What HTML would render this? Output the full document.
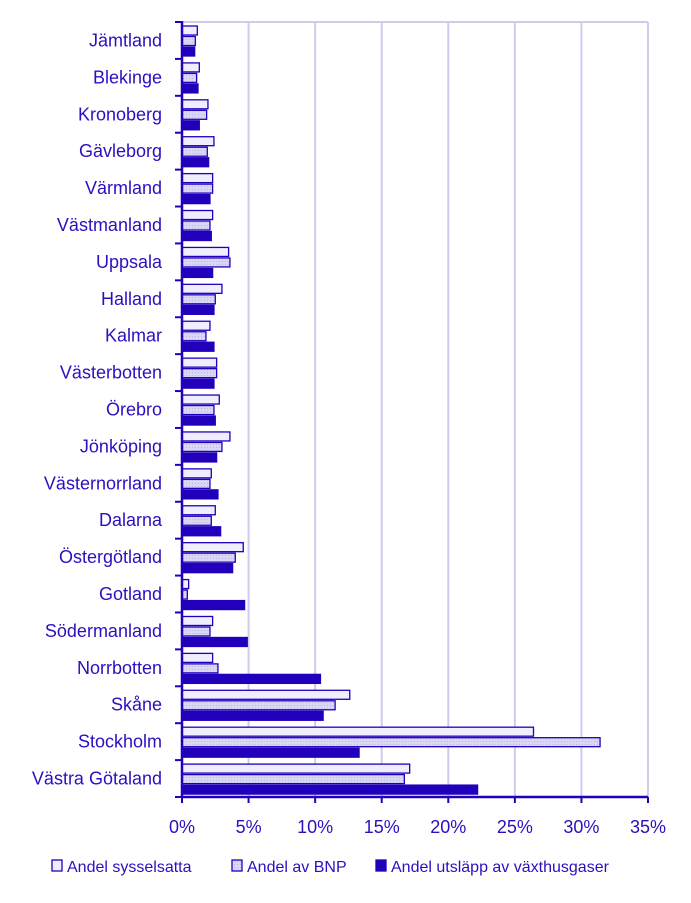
<!DOCTYPE html>
<html><head><meta charset="utf-8"><style>
body{margin:0;background:#fff;font-family:"Liberation Sans",sans-serif}
</style></head><body>
<svg id="chart" width="691" height="898" xmlns="http://www.w3.org/2000/svg" font-family="Liberation Sans, sans-serif"></svg>
<script>
const categories=["Jämtland","Blekinge","Kronoberg","Gävleborg","Värmland","Västmanland","Uppsala","Halland","Kalmar","Västerbotten","Örebro","Jönköping","Västernorrland","Dalarna","Östergötland","Gotland","Södermanland","Norrbotten","Skåne","Stockholm","Västra Götaland"];
const sysselsatta=[1.15,1.3,1.95,2.4,2.3,2.3,3.5,3.0,2.1,2.6,2.8,3.6,2.2,2.5,4.6,0.5,2.3,2.3,12.6,26.4,17.1];
const bnp=[1.0,1.1,1.85,1.9,2.3,2.1,3.6,2.5,1.8,2.6,2.4,3.0,2.1,2.2,4.0,0.4,2.1,2.7,11.5,31.4,16.7];
const utslapp=[0.95,1.2,1.3,2.0,2.1,2.2,2.3,2.4,2.4,2.4,2.5,2.6,2.7,2.9,3.8,4.7,4.9,10.4,10.6,13.3,22.2];
const xTicks=[0,5,10,15,20,25,30,35];
const seriesNames=["Andel sysselsatta","Andel av BNP","Andel utsläpp av växthusgaser"];
const C="#2200bb",TXT="#2a10c0";
const X0=182,X1=648,XMAX=35,Y0=22,Y1=797;
const band=(Y1-Y0)/categories.length;
const xs=v=>X0+v/XMAX*(X1-X0);
const ys=i=>Y0+i*band;
const svg=document.getElementById('chart');
const NS="http://www.w3.org/2000/svg";
function mk(t,a,p){const e=document.createElementNS(NS,t);for(const k in a)e.setAttribute(k,a[k]);(p||svg).appendChild(e);return e;}
const defs=mk('defs',{});
const pat=mk('pattern',{id:'dots',width:3,height:3,patternUnits:'userSpaceOnUse'},defs);
mk('rect',{width:3,height:3,fill:'#d8d8f4'},pat);
mk('rect',{x:0,y:0,width:1,height:1,fill:'#b8b8e8'},pat);
xTicks.forEach(t=>{if(t===0)return;const g=mk('line',{x1:xs(t),x2:xs(t),y1:Y0,y2:Y1,stroke:'#ccccee','stroke-width':2});

});
const topBorder=mk('line',{x1:X0,x2:X1,y1:Y0,y2:Y0,stroke:'#ccccee','stroke-width':2});


const fills=['#eeeeff','url(#dots)',C];
const series=[sysselsatta,bnp,utslapp];
categories.forEach((c,i)=>{
  series.forEach((s,j)=>{
    const r=mk('rect',{x:X0,y:ys(i)+4+j*10.5,width:xs(s[i])-X0,height:9,fill:fills[j],stroke:C,'stroke-width':1.3});
    
    
  });
  const t=mk('text',{x:162,y:ys(i)+band/2+6,'text-anchor':'end','font-size':18,fill:TXT});
  t.textContent=c;
  
  
});
for(let i=0;i<=categories.length;i++){mk('line',{x1:175,x2:X0,y1:ys(i),y2:ys(i),stroke:C,'stroke-width':2});}
const yAx=mk('line',{x1:X0,x2:X0,y1:Y0-1,y2:Y1+1,stroke:C,'stroke-width':2.5});


const xAx=mk('line',{x1:X0,x2:X1,y1:Y1,y2:Y1,stroke:C,'stroke-width':2.5});


xTicks.forEach(t=>{mk('line',{x1:xs(t),x2:xs(t),y1:Y1,y2:Y1+6,stroke:C,'stroke-width':2});
  const l=mk('text',{x:xs(t),y:833,'text-anchor':'middle','font-size':18,fill:TXT});l.textContent=t+'%';
  
  });
const lx=[52,232,376];
seriesNames.forEach((n,j)=>{
  const g=mk('g',{});
  
  
  mk('rect',{x:lx[j],y:860,width:10,height:11,fill:fills[j],stroke:C,'stroke-width':1.3},g);
  const t=mk('text',{x:lx[j]+15,y:872,'font-size':16,fill:TXT},g);t.textContent=n;
});
</script>
</body></html>
